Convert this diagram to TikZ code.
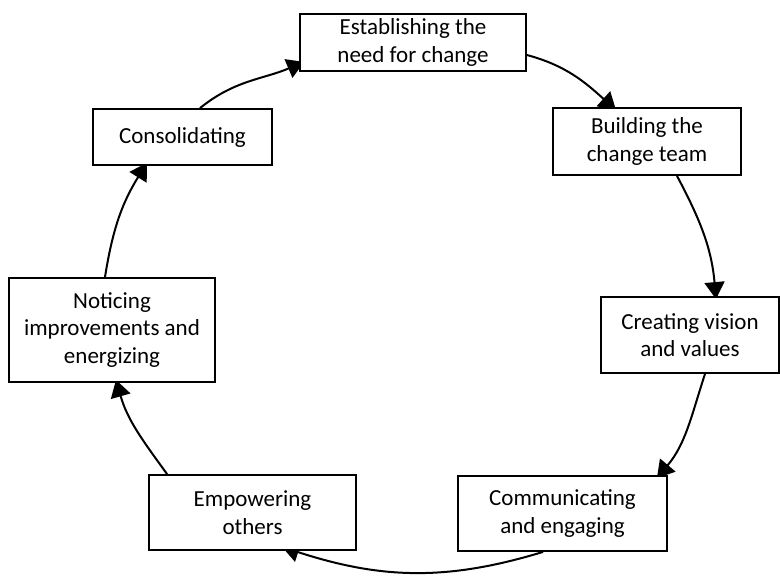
\documentclass[tikz,border=0pt]{standalone}
\usepackage{fontspec}
\setmainfont{Carlito}
\usetikzlibrary{arrows.meta,calc,backgrounds}
\begin{document}
\begin{tikzpicture}[x=1pt,y=1pt,
  stage/.style={draw, line width=1.8pt, fill=white, align=center, inner sep=0pt,
    font=\fontsize{23}{27.5}\selectfont},
  flow/.style={line width=2pt, -{Triangle[length=17pt,width=20pt]}}]
\useasboundingbox (0,0) rectangle (780,-576);

% the seven stages of the change cycle
\node[stage, minimum width=226pt, minimum height=57pt]  (b1) at (413,-42.5)  {Establishing the\\need for change};
\node[stage, minimum width=188pt, minimum height=67pt]  (b2) at (647,-141.5)  {Building the\\change team};
\node[stage, minimum width=178pt, minimum height=76pt]  (b3) at (690,-335)    {Creating vision\\and values};
\node[stage, minimum width=209pt, minimum height=75pt]  (b4) at (562.5,-513.5) {Communicating\\and engaging};
\node[stage, minimum width=207pt, minimum height=75pt]  (b5) at (252.5,-512.5) {Empowering\\others};
\node[stage, minimum width=206pt, minimum height=104pt] (b6) at (112,-330)    {Noticing\\improvements and\\energizing};
\node[stage, minimum width=179pt, minimum height=56pt]  (b7) at (182.5,-137)  {Consolidating};

% curved arrows running clockwise, tucked under the boxes
\begin{scope}[on background layer]
\draw[flow] ($(b1.east)+(0,-12.5)$)  to[out=-15, in=138]  ($(b2.north)+(-31,-3)$);
\draw[flow] ($(b2.south)+(30,0)$)    to[out=-62, in=95]   ($(b3.north)+(26,-3)$);
\draw[flow] ($(b3.south)+(15,0)$)    to[out=-108, in=50]  ($(b4.north east)+(-11,-3)$);
\draw[flow] ($(b4.south)+(-19.5,0)$) to[out=197, in=-18]  ($(b5.south)+(29.5,4)$);
\draw[flow] ($(b5.north west)+(19,0)$) to[out=126, in=-74] ($(b6.south)+(4,3)$);
\draw[flow] ($(b6.north)+(-7,0)$)    to[out=81, in=-122]  ($(b7.south)+(-35.5,3)$);
\draw[flow] ($(b7.north)+(17.5,0)$)  to[out=39, in=203]   ($(b1.south west)+(5,10)$);
\end{scope}
\end{tikzpicture}
\end{document}
